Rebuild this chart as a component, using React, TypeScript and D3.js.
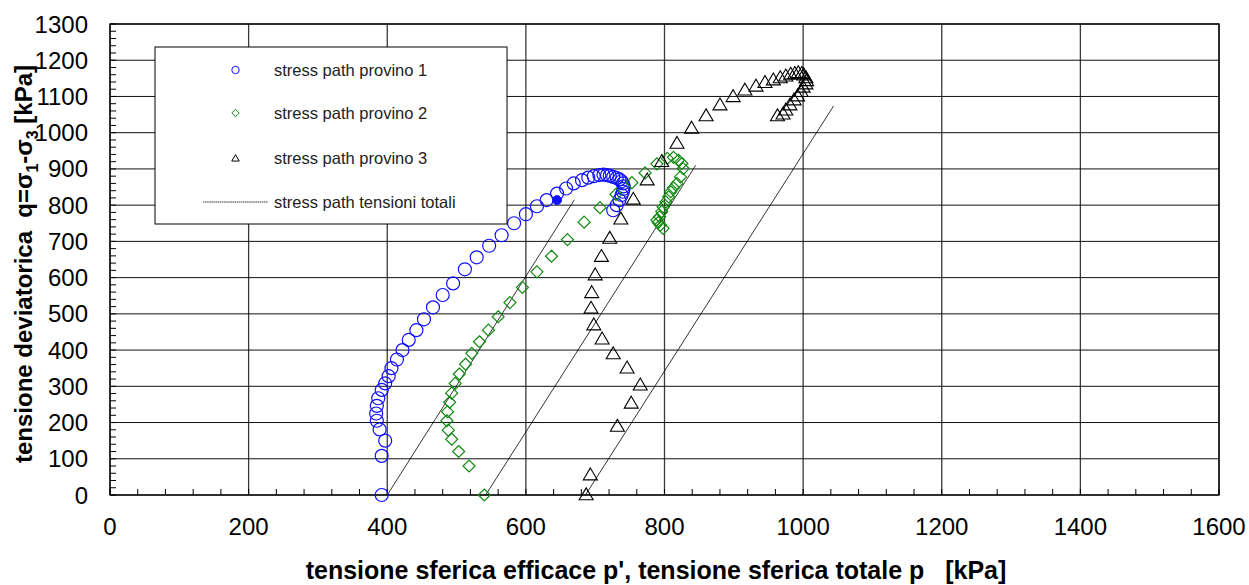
import React from "react";
import * as d3 from "d3";

// Effective stress paths (p', q) in kPa
const provino1: [number, number][] = [
  [392, 0], [392, 108], [397, 150], [389, 181], [385, 205], [384, 225], [385, 246],
  [387, 267], [392, 290], [397, 308], [402, 328], [406, 350], [414, 374], [422, 400],
  [431, 428], [442, 455], [453, 485], [466, 518], [480, 552], [495, 584], [512, 623],
  [529, 656], [547, 688], [565, 717], [583, 750], [600, 775], [616, 797], [630, 814],
  [645, 832], [658, 846], [669, 860], [681, 869], [690, 876], [698, 880], [706, 883],
  [712, 884], [717, 883], [721, 881], [726, 878], [731, 875], [735, 871], [738, 866],
  [740, 860], [741, 852], [741, 845], [740, 837], [738, 828], [735, 814], [731, 800],
  [726, 786],
];
const provino1Final: [number, number][] = [[645, 814]];

const provino2: [number, number][] = [
  [540, 0], [518, 80], [503, 120], [493, 154], [488, 179], [486, 205], [487, 230],
  [490, 256], [493, 281], [498, 308], [504, 334], [513, 361], [522, 391], [533, 423],
  [546, 455], [560, 492], [577, 531], [595, 573], [616, 616], [637, 659], [660, 705],
  [684, 753], [707, 793], [730, 830], [753, 862], [772, 889], [789, 914], [804, 929],
  [813, 932], [820, 924], [825, 915], [827, 901], [823, 878], [818, 860], [813, 848],
  [809, 837], [806, 823], [802, 809], [798, 795], [796, 782], [793, 768], [789, 759],
  [791, 752], [794, 745], [798, 736],
];

const provino3: [number, number][] = [
  [687, 0], [693, 55], [732, 189], [752, 253], [765, 303], [746, 350], [726, 389],
  [710, 430], [698, 469], [694, 515], [695, 558], [700, 607], [709, 658], [721, 708],
  [737, 761], [755, 816], [775, 869], [796, 920], [818, 970], [839, 1012], [860, 1046],
  [880, 1076], [899, 1099], [916, 1117], [932, 1128], [945, 1138], [957, 1145],
  [967, 1151], [975, 1156], [982, 1161], [988, 1163], [993, 1165], [998, 1163],
  [1001, 1159], [1004, 1151], [1005, 1143], [1004, 1134], [1000, 1125], [997, 1113],
  [992, 1101], [987, 1090], [981, 1076], [975, 1062], [971, 1051], [963, 1046],
];

// Total stress paths (slope 3 in the p-q plane)
const totali: [number, number][][] = [
  [[400, 0], [670, 815]],
  [[542, 0], [845, 910]],
  [[686, 0], [1044, 1074]],
];

const xTicks = [0, 200, 400, 600, 800, 1000, 1200, 1400, 1600];
const yTicks = [0, 100, 200, 300, 400, 500, 600, 700, 800, 900, 1000, 1100, 1200, 1300];

const legendLabels = [
  "stress path provino 1",
  "stress path provino 2",
  "stress path provino 3",
  "stress path tensioni totali",
];

const BLUE = "#1010ff";
const GREEN = "#108a10";

const W = 1249;
const H = 585;
const M = { left: 110, right: 1219, top: 24, bottom: 495 };

function diamondPath(cx: number, cy: number, r: number) {
  return `M${cx},${cy - r}L${cx + r},${cy}L${cx},${cy + r}L${cx - r},${cy}Z`;
}
function trianglePath(cx: number, cy: number, s: number) {
  const h = s * 0.85;
  return `M${cx},${cy - h * 0.6}L${cx + s / 2},${cy + h * 0.4}L${cx - s / 2},${cy + h * 0.4}Z`;
}

export default function App() {
  const x = d3.scaleLinear().domain([0, 1600]).range([M.left, M.right]);
  const y = d3.scaleLinear().domain([0, 1300]).range([M.bottom, M.top]);
  const line = d3.line<[number, number]>().x((d) => x(d[0])).y((d) => y(d[1]));

  const xMinor = d3.range(0, 1601, 40);
  const yMinor = d3.range(0, 1301, 20);
  const font = "Arial, 'Liberation Sans', Helvetica, sans-serif";

  const lgX = 155, lgY = 47, lgW = 352, lgH = 177;
  const rowY = [70, 113, 158, 202];

  return (
    <svg width={W} height={H} style={{ position: "absolute", left: 0, top: 0, background: "#fff" }} fontFamily={font}>
      {/* grid */}
      {xTicks.map((t) => (
        <line key={"gx" + t} x1={x(t)} x2={x(t)} y1={M.top} y2={M.bottom} stroke="#3a3a3a" strokeWidth={1.3} />
      ))}
      {yTicks.map((t) => (
        <line key={"gy" + t} x1={M.left} x2={M.right} y1={y(t)} y2={y(t)} stroke="#111" strokeWidth={1} />
      ))}
      {/* minor ticks */}
      {xMinor.map((t) => (
        <line key={"mx" + t} x1={x(t)} x2={x(t)} y1={M.bottom} y2={M.bottom - 6} stroke="#000" strokeWidth={1} />
      ))}
      {yMinor.map((t) => (
        <line key={"my" + t} x1={M.left} x2={M.left + 6} y1={y(t)} y2={y(t)} stroke="#000" strokeWidth={1} />
      ))}
      <rect x={M.left} y={M.top} width={M.right - M.left} height={M.bottom - M.top} fill="none" stroke="#000" strokeWidth={1.3} />

      {/* tick labels */}
      {xTicks.map((t) => (
        <text key={"tx" + t} x={x(t)} y={535} textAnchor="middle" fontSize={24} fill="#000">{t}</text>
      ))}
      {yTicks.map((t) => (
        <text key={"ty" + t} x={88} y={y(t) + 8.5} textAnchor="end" fontSize={24} fill="#000">{t}</text>
      ))}

      {/* total stress paths */}
      {totali.map((seg, i) => (
        <path key={"tot" + i} d={line(seg) || ""} fill="none" stroke="#000" strokeWidth={0.8} />
      ))}

      {/* effective stress paths */}
      {provino1.map((d, i) => (
        <circle key={"p1" + i} cx={x(d[0])} cy={y(d[1])} r={6.5} fill="none" stroke={BLUE} strokeWidth={1.2} />
      ))}
      {provino1Final.map((d, i) => (
        <circle key={"p1f" + i} cx={x(d[0])} cy={y(d[1])} r={4.5} fill={BLUE} stroke={BLUE} strokeWidth={1} />
      ))}
      {provino2.map((d, i) => (
        <path key={"p2" + i} d={diamondPath(x(d[0]), y(d[1]), 6)} fill="none" stroke={GREEN} strokeWidth={1.2} />
      ))}
      {provino3.map((d, i) => (
        <path key={"p3" + i} d={trianglePath(x(d[0]), y(d[1]), 14)} fill="none" stroke="#000" strokeWidth={1.1} />
      ))}

      {/* legend */}
      <rect x={lgX} y={lgY} width={lgW} height={lgH} fill="#fff" stroke="#000" strokeWidth={1} />
      <circle cx={235.5} cy={rowY[0]} r={3.7} fill="none" stroke={BLUE} strokeWidth={1} />
      <path d={diamondPath(235.5, rowY[1], 3.7)} fill="none" stroke={GREEN} strokeWidth={1} />
      <path d={trianglePath(235.5, rowY[2] + 0.5, 7.5)} fill="none" stroke="#000" strokeWidth={1} />
      <line x1={203} x2={268} y1={rowY[3]} y2={rowY[3]} stroke="#000" strokeWidth={0.8} strokeDasharray="1.5 0.6" />
      {legendLabels.map((s, i) => (
        <text key={"lg" + i} x={274} y={rowY[i] + 5.5} fontSize={16.5} fill="#222">{s}</text>
      ))}

      {/* axis titles */}
      <text x={656} y={579} textAnchor="middle" fontSize={25} fontWeight="bold" fill="#000" xmlSpace="preserve">
        {"tensione sferica efficace p', tensione sferica totale p   [kPa]"}
      </text>
      <text
        transform={`translate(32,${264}) rotate(-90)`}
        textAnchor="middle"
        fontSize={24}
        fontWeight="bold"
        fill="#000"
        xmlSpace="preserve"
      >
        {"tensione deviatorica  q=σ"}
        <tspan fontSize={16} dy={6}>1</tspan>
        <tspan dy={-6}>-σ</tspan>
        <tspan fontSize={16} dy={6}>3</tspan>
        <tspan dy={-6}>{" [kPa]"}</tspan>
      </text>
    </svg>
  );
}
